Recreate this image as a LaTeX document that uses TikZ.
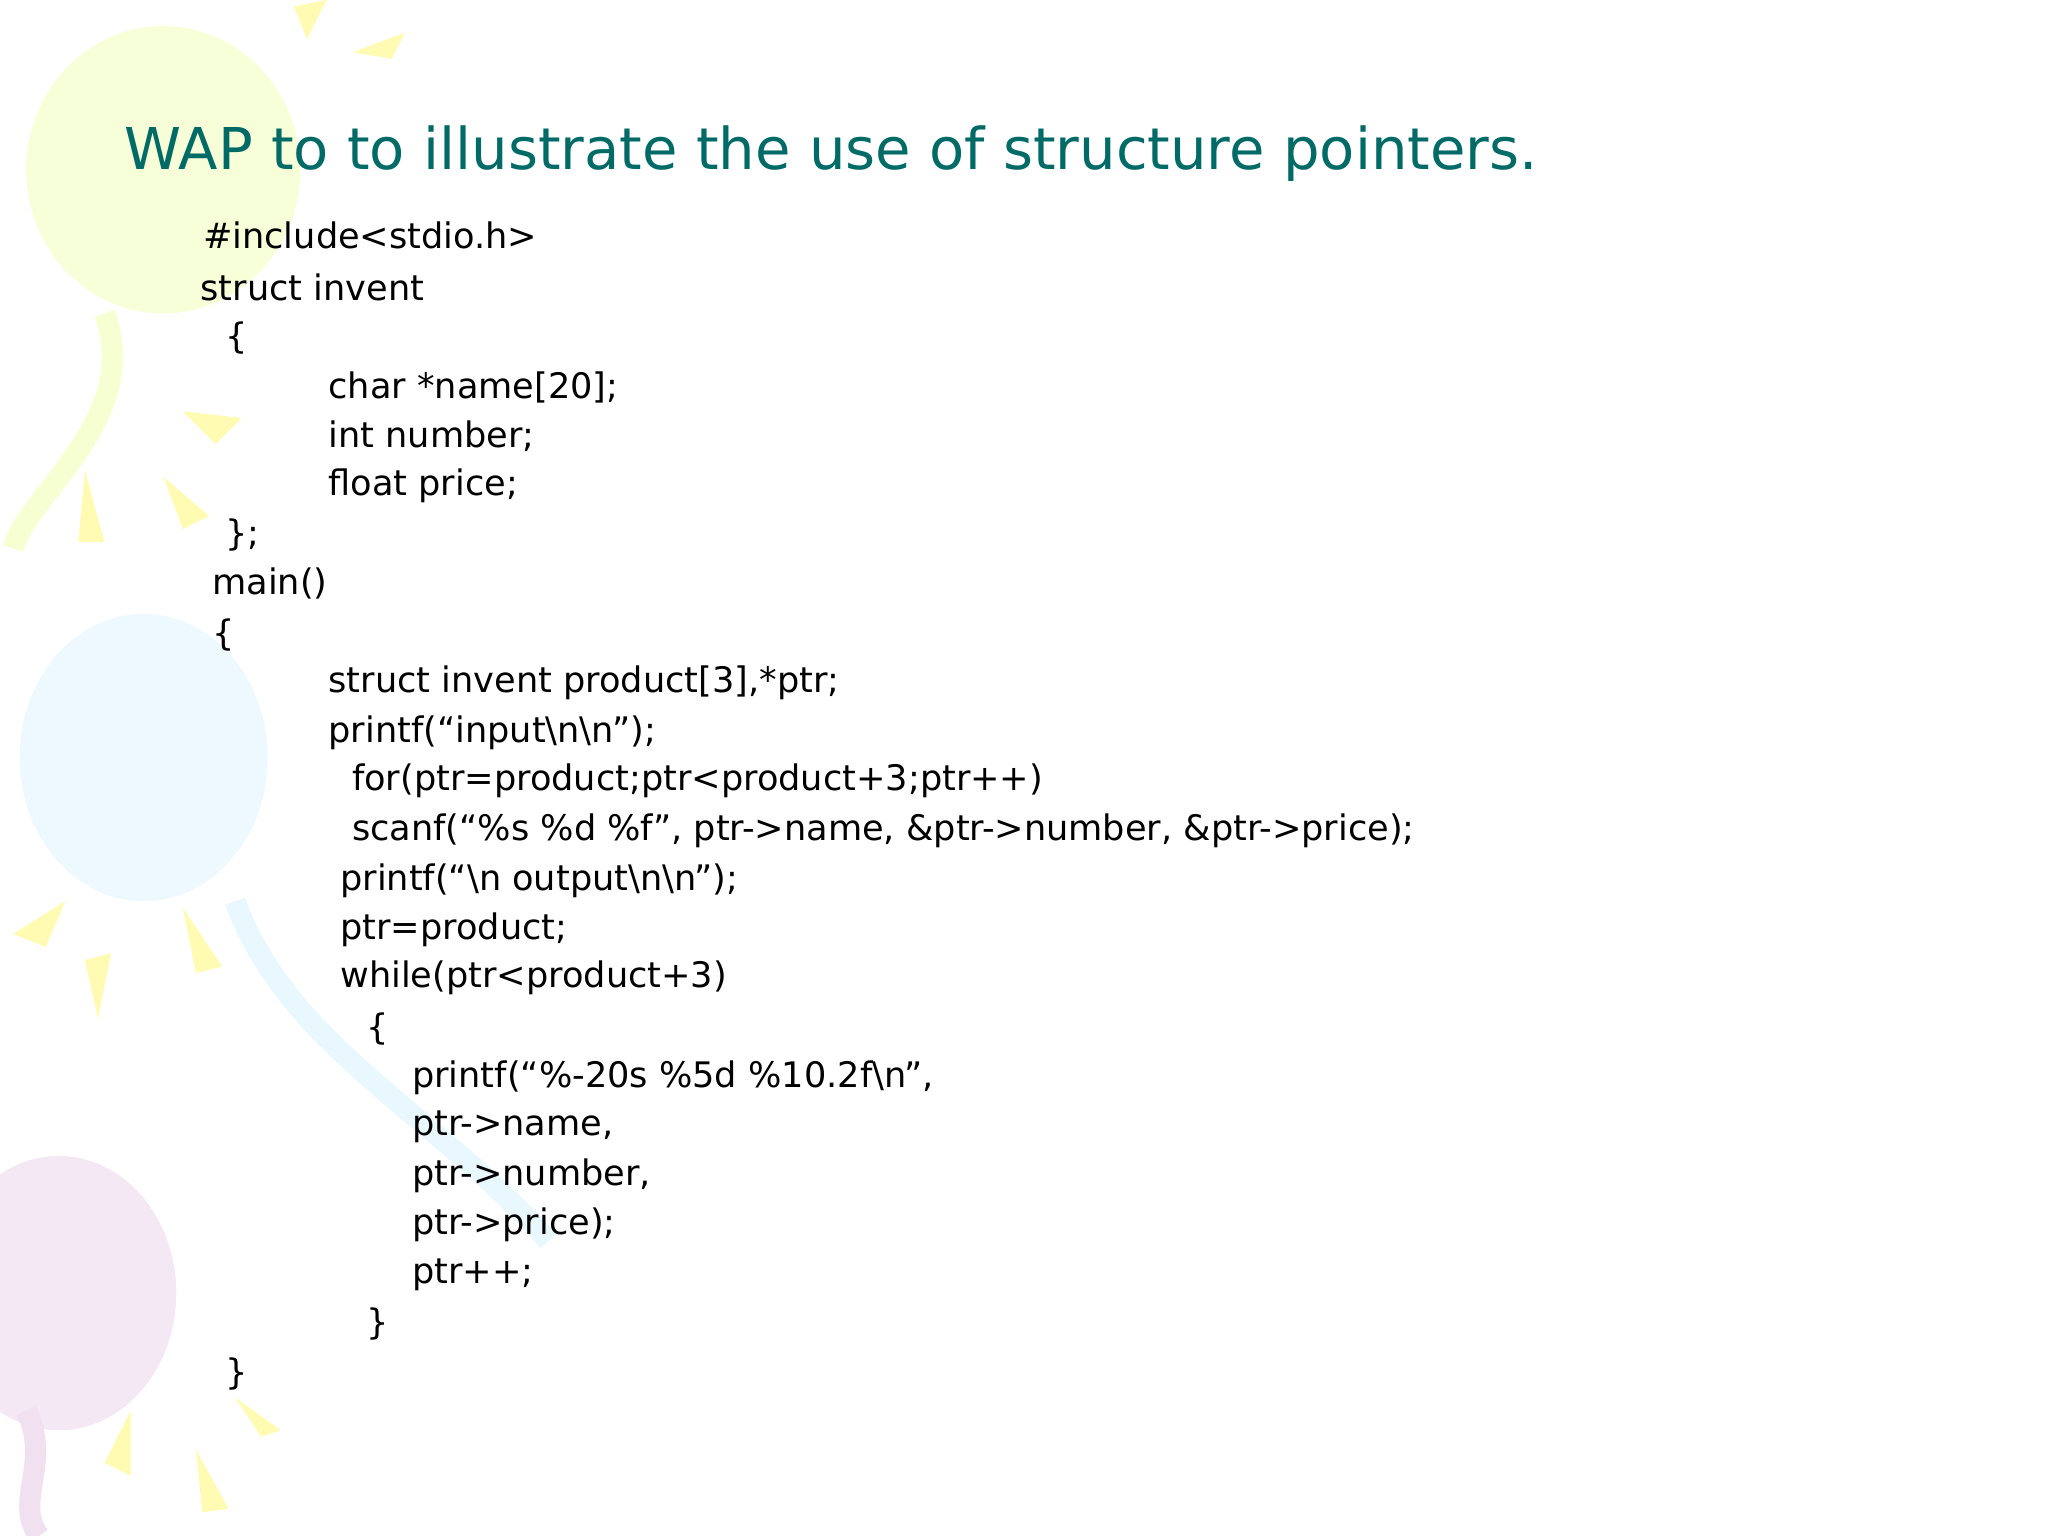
\documentclass[tikz,border=0pt]{standalone}
\usepackage{fontspec}
\setmainfont{DejaVu Sans}
\definecolor{ttl}{HTML}{006B66}
\begin{document}
\begin{tikzpicture}[x=0.01306cm,y=-0.01306cm,
  code/.style={anchor=west,inner sep=0pt,font=\fontsize{10}{12}\selectfont},
  ray/.style={fill=yellow!30}]
\useasboundingbox (0,0) rectangle (1568,1176);
% faint background balloons
\fill[green!20!yellow!15] (125,130) ellipse (105 and 110);
\fill[cyan!7] (110,580) ellipse (95 and 110);
\fill[violet!9] (45,990) ellipse (90 and 105);
\draw[green!20!yellow!18,line width=6pt] (80,240) .. controls (110,320) and (20,380) .. (10,420);
\draw[cyan!9,line width=6pt] (180,690) .. controls (220,800) and (330,850) .. (420,950);
\draw[violet!12,line width=6pt] (20,1080) .. controls (40,1120) and (10,1150) .. (30,1176);
\fill[ray] (225,5) -- (250,0) -- (235,30) -- cycle;
\fill[ray] (270,40) -- (310,25) -- (300,45) -- cycle;
\fill[ray] (140,315) -- (185,320) -- (165,340) -- cycle;
\fill[ray] (65,360) -- (80,415) -- (60,415) -- cycle;
\fill[ray] (125,365) -- (160,395) -- (140,405) -- cycle;
\fill[ray] (10,715) -- (50,690) -- (35,725) -- cycle;
\fill[ray] (65,735) -- (85,730) -- (75,780) -- cycle;
\fill[ray] (140,695) -- (170,740) -- (150,745) -- cycle;
\fill[ray] (180,1070) -- (215,1095) -- (200,1100) -- cycle;
\fill[ray] (80,1120) -- (100,1080) -- (100,1130) -- cycle;
\fill[ray] (150,1110) -- (175,1155) -- (155,1158) -- cycle;
% title
\node[anchor=base west,inner sep=0pt,text=ttl,font=\fontsize{16.4}{20}\selectfont] (title) at (95,130) {WAP to to illustrate the use of structure pointers.};
% code
\node[code] (l1) at (155,180) {\#include<stdio.h>};
\node[code] (l2) at (153,220) {struct invent};
\node[code] (l3) at (172,259) {\{};
\node[code] (l4) at (251,297) {char *name[20];};
\node[code] (l5) at (251,334) {int number;};
\node[code] (l6) at (251,372) {float price;};
\node[code] (l7) at (172,410) {\};};
\node[code] (l8) at (162,447) {main()};
\node[code] (l9) at (162,486) {\{};
\node[code] (l10) at (251,523) {struct invent product[3],*ptr;};
\node[code] (l11) at (251,561) {printf(“input\textbackslash n\textbackslash n”);};
\node[code] (l12) at (269,598) {for(ptr=product;ptr<product+3;ptr++)};
\node[code] (l13) at (269,636) {scanf(“\%s \%d \%f”, ptr->name, \&ptr->number, \&ptr->price);};
\node[code] (l14) at (260,674) {printf(“\textbackslash n output\textbackslash n\textbackslash n”);};
\node[code] (l15) at (260,712) {ptr=product;};
\node[code] (l16) at (260,749) {while(ptr<product+3)};
\node[code] (l17) at (280,788) {\{};
\node[code] (l18) at (315,825) {printf(“\%-20s \%5d \%10.2f\textbackslash n”,};
\node[code] (l19) at (315,863) {ptr->name,};
\node[code] (l20) at (315,900) {ptr->number,};
\node[code] (l21) at (315,938) {ptr->price);};
\node[code] (l22) at (315,976) {ptr++;};
\node[code] (l23) at (280,1014) {\}};
\node[code] (l24) at (172,1052) {\}};
\end{tikzpicture}
\end{document}
